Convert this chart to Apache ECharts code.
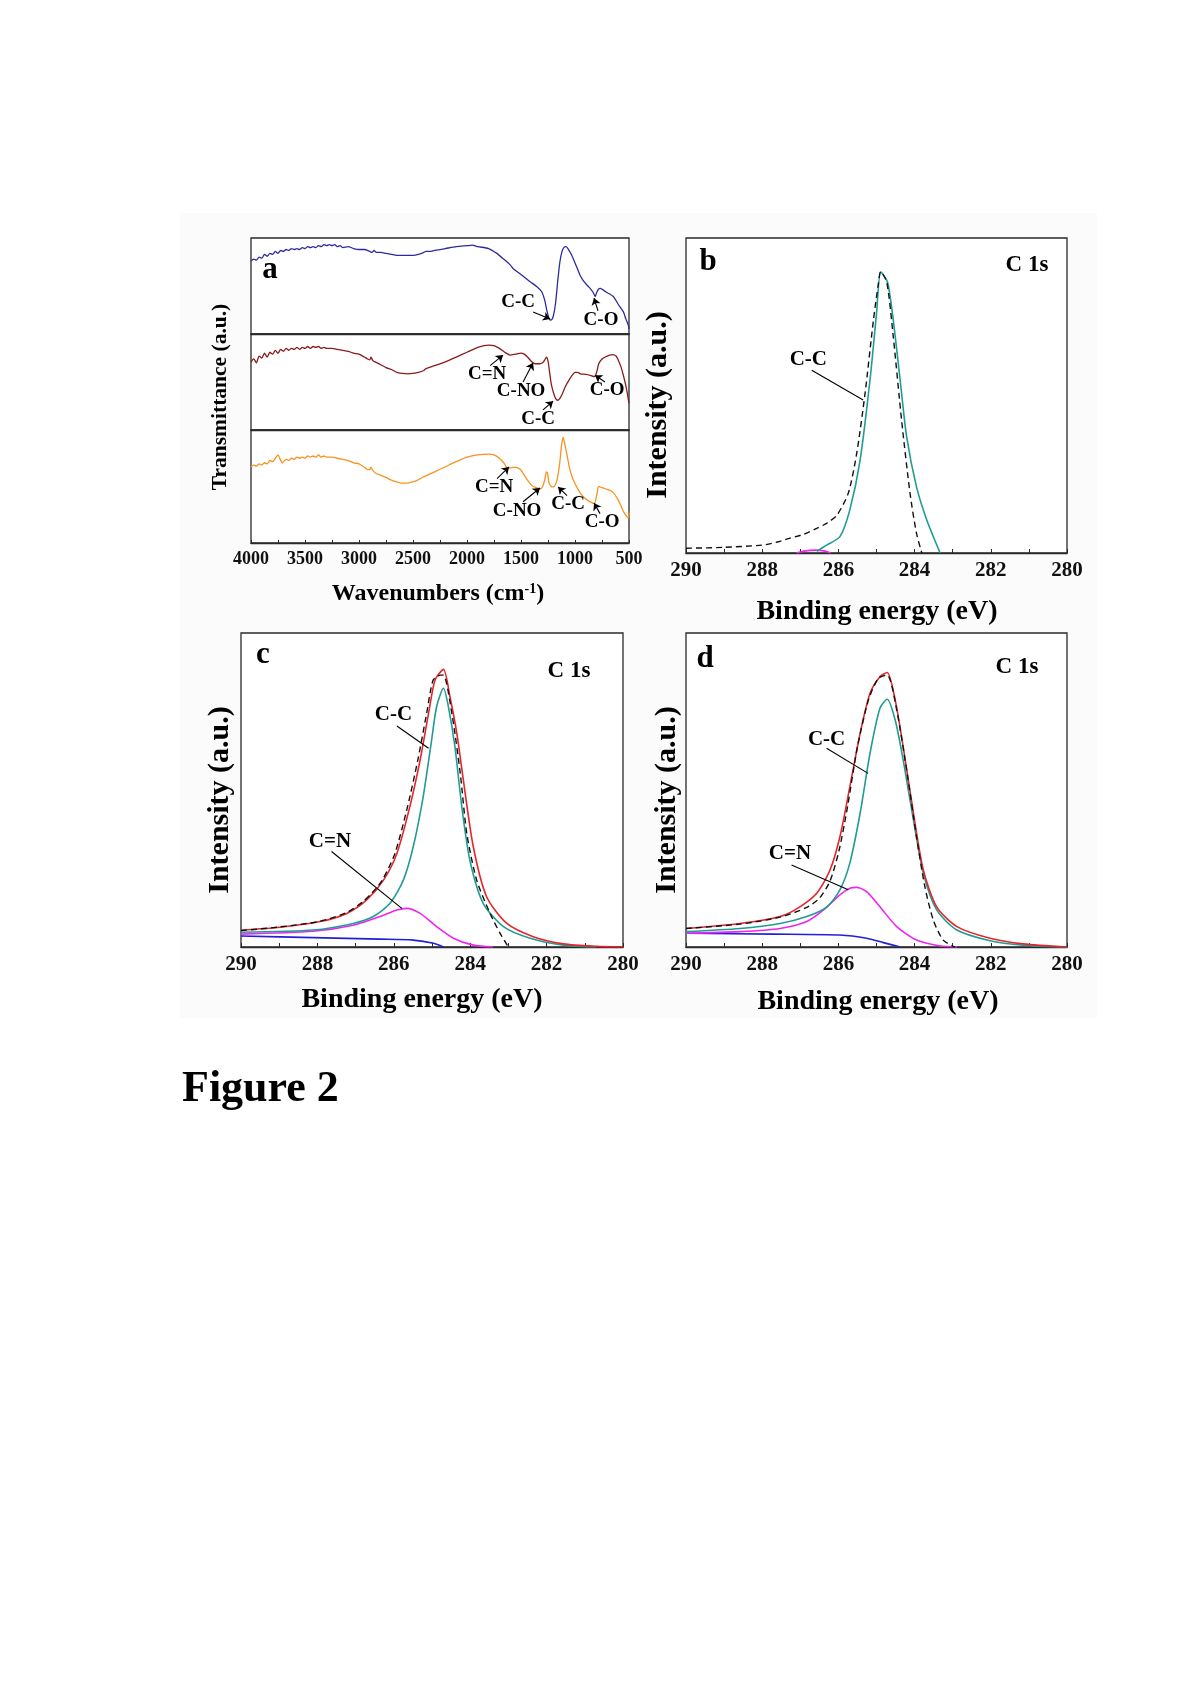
<!DOCTYPE html>
<html><head><meta charset="utf-8">
<script src="https://cdn.jsdelivr.net/npm/echarts@6.0.0/dist/echarts.min.js"></script>
<style>
html,body{margin:0;padding:0;background:#fff}
#bg{position:absolute;left:180px;top:213px;width:917px;height:805px;background:#fbfbfb}
#c{position:absolute;left:0;top:0;width:1200px;height:1697px}
</style>
</head><body><div id="bg"></div><div id="c"></div>
<script>
// ---------- Panel a: FTIR (wavenumber, relative transmittance 0-100 within each strip) ----------
const ftirTicks = [4000, 3500, 3000, 2500, 2000, 1500, 1000, 500];
const ftirBlue = [[4000,76],[3975,78],[3950,77],[3925,80],[3900,79],[3875,83],[3850,81],[3825,84],[3800,83],[3775,86],[3750,84],[3725,87],[3700,86],[3675,88],[3650,87],[3625,89],[3600,88],[3575,89],[3550,88],[3525,90],[3500,89],[3475,91],[3450,90],[3425,91],[3400,90],[3375,92],[3350,91],[3325,93],[3300,92],[3275,93],[3250,92],[3225,93],[3200,91],[3175,92],[3150,90],[3100,91],[3050,89],[3000,88],[2950,88],[2900,86],[2880,85],[2860,87],[2840,85],[2800,85],[2750,84],[2700,83],[2650,82],[2600,82],[2550,82],[2500,82],[2450,83],[2400,85],[2380,86],[2350,86],[2300,87],[2200,89],[2100,91],[2000,92],[1950,92.5],[1900,91],[1800,89],[1724,84],[1650,77],[1600,72],[1571,68],[1500,62],[1416,54.5],[1350,49],[1308,44],[1280,35],[1260,24],[1240,16],[1231,14.6],[1215,15],[1200,19],[1180,32],[1160,55],[1140,75],[1120,86],[1100,90.5],[1083,91],[1060,88],[1030,82],[1000,74],[970,66],[952,61],[920,55],[890,51],[860,47.6],[830,43],[813,39],[800,43],[780,47],[767,47.6],[740,46],[700,43],[645,39],[600,31],[552,23],[530,16],[506,9],[500,5]];
const ftirRed = [[4000,71],[3975,74],[3950,70],[3925,77],[3900,75],[3875,80],[3850,76],[3825,81],[3800,79],[3775,83],[3750,80],[3725,84],[3700,82],[3675,85],[3650,83],[3625,85],[3600,84],[3575,86],[3550,84],[3525,86],[3500,85],[3475,87],[3450,85],[3425,87],[3400,86],[3375,87],[3350,85],[3325,86],[3300,85],[3250,85],[3200,84],[3150,83],[3100,82],[3050,80],[3000,79],[2950,76],[2920,74],[2900,73],[2890,76],[2870,72],[2850,71],[2800,68],[2750,65],[2700,63],[2650,60],[2600,59],[2550,58.5],[2500,59],[2450,60],[2400,62],[2380,64],[2300,67],[2200,71],[2100,76],[2000,81],[1900,86],[1800,88.5],[1750,88],[1700,85],[1650,81],[1600,78],[1550,79],[1500,80],[1470,79],[1440,76],[1400,71],[1370,69],[1330,69],[1300,70],[1280,73],[1265,76],[1250,72],[1235,60],[1220,48],[1200,39],[1180,33],[1160,31],[1140,33],[1120,37],[1090,45],[1050,53],[1020,58],[1000,60],[975,60],[950,58.5],[900,58],[860,57],[820,55.5],[800,60],[780,69],[750,74],[720,76],[680,78],[650,78.5],[620,77],[600,73],[575,66],[550,56],[525,44],[500,28]];
const ftirOrange = [[4000,67.5],[3975,69],[3950,68],[3925,70],[3900,69],[3875,71],[3850,70],[3825,73],[3800,72],[3775,75],[3750,78],[3730,74],[3710,71],[3690,73],[3670,74],[3650,73],[3625,75],[3600,74],[3575,76],[3550,75],[3525,76],[3500,75],[3475,77],[3450,76],[3425,77],[3400,76],[3375,78],[3350,76],[3325,77],[3300,76],[3250,76],[3200,75],[3150,74],[3100,73],[3050,71],[3000,70],[2950,67],[2920,65],[2900,65],[2890,67],[2870,64],[2850,62],[2800,60],[2750,58],[2700,55.6],[2650,54],[2600,53],[2550,53],[2500,54],[2450,56],[2400,58.6],[2300,63],[2200,67.5],[2100,72],[2000,76],[1900,78],[1800,78.7],[1750,78],[1700,75],[1660,71],[1620,66],[1580,67],[1550,67],[1520,66],[1500,64.5],[1450,57],[1400,51],[1360,49],[1320,48],[1300,50],[1280,56],[1265,63],[1255,62],[1240,53],[1220,50],[1200,49.7],[1180,52],[1160,58.6],[1140,72],[1125,86],[1110,93.5],[1095,88],[1070,76],[1050,66],[1025,58],[1000,52.7],[975,48],[950,44],[900,39],[850,36],[820,35],[800,42],[780,50],[750,49],[720,48],[690,47],[650,45],[600,38],[575,33],[550,27.5],[525,24],[505,22],[500,27]];
// annotations: [text, x, y] and arrows [x1, y1, x2, y2] (data units)
const aTopLabels = [['C-C',1527,33],['C-O',759,14.6]];
const aTopArrows = [[1388,23,1231,15.6],[787,24,824,37.5]];
const aMidLabels = [['C=N',1814,58],['C-NO',1499,40.6],['C-C',1342,11.5],['C-O',703,41.7]];
const aMidArrows = [[1786,67,1666,78],[1481,50,1388,70],[1296,21,1203,30],[722,50,815,57]];
const aBotLabels = [['C=N',1749,49.6],['C-NO',1536,28.3],['C-C',1064,34.5],['C-O',749,18.6]];
const aBotArrows = [[1722,57,1611,67.3],[1481,36.5,1324,48.7],[1074,42,1157,49.6],[768,26,824,35.4]];

// ---------- Panel b: XPS C 1s ----------
const xpsTicks = [290, 288, 286, 284, 282, 280];
const bTeal = [[286.57,0.5],[286.31,2.5],[285.96,5.2],[285.7,13.7],[285.43,29.5],[285.17,55],[285.0,76],[284.89,89.3],[284.75,87],[284.69,85],[284.56,74],[284.38,55],[284.21,37],[283.95,21],[283.68,10.5],[283.33,0]];
const bDash = [[290,1.5],[289,1.8],[288,2.5],[287.6,3.5],[287.27,4.7],[286.9,6],[286.57,7.8],[286.3,9.5],[286.04,12],[285.74,19],[285.52,31.6],[285.3,50.7],[285.08,74],[284.95,85.6],[284.89,89.3],[284.73,86],[284.56,68.7],[284.34,42],[284.12,19],[283.95,6.2],[283.81,0]];
const bMagenta = [[287.1,0],[286.9,0.6],[286.6,0.9],[286.35,0.6],[286.2,0]];
const bLabels = [['C-C',286.79,61.3]];
const bLines = [[286.7,58,285.35,48.6]];

// ---------- Panel c ----------
const cRed = [[290,5.4],[288.98,6.3],[287.93,8.1],[287.23,10.7],[286.71,15],[286.27,21.3],[285.92,29.8],[285.58,44.7],[285.31,59.6],[285.09,74.4],[284.92,85],[284.7,88.4],[284.53,79.7],[284.35,68],[284.18,53.2],[283.92,32],[283.57,16],[283.04,7.5],[282.35,3.3],[281.56,1],[280.69,0.2],[280,0]];
const cTeal = [[290,4.7],[288.11,5.4],[287.06,7.5],[286.54,9.7],[286.1,13.9],[285.75,21.3],[285.49,32],[285.23,47.9],[285.01,65.9],[284.88,76.5],[284.7,82.4],[284.57,76.5],[284.4,63.8],[284.22,44.7],[284.01,27.7],[283.66,13.9],[283.13,6.5],[282.43,2.8],[281.56,0.6],[280.7,0]];
const cDash = [[290,5.2],[288.98,6.4],[287.93,8.2],[287.23,11],[286.8,14.5],[286.55,17.5],[286.3,21.3],[285.97,29.8],[285.64,44.7],[285.37,59.6],[285.14,74.4],[284.97,85],[284.78,86.6],[284.7,86.6],[284.48,74.4],[284.26,55.3],[284.09,36.2],[283.83,21.3],[283.48,10.7],[283.22,4.4],[283.0,0]];
const cMagenta = [[290,4.1],[288.11,5],[287.06,6.9],[286.36,9.7],[285.92,11.8],[285.66,12.3],[285.31,10.7],[284.88,6.5],[284.44,2.8],[283.92,0.6],[283.4,0]];
const cBlue = [[290,3.5],[288.11,3],[286.36,2.5],[285.49,2.2],[284.96,1.2],[284.7,0]];
const cLabels = [['C-C',286.01,73.9],['C=N',287.67,33.5]];
const cLines = [[285.92,70.4,285.09,63.3],[287.63,30.4,285.79,12.3]];

// ---------- Panel d ----------
const dRed = [[290,5.9],[288.58,7.5],[287.53,9.7],[287.01,12.8],[286.57,17.1],[286.22,24.5],[285.96,35.1],[285.7,51],[285.43,68],[285.17,80.8],[284.91,86.1],[284.72,87.4],[284.51,78.7],[284.3,63.8],[284.03,42.6],[283.77,24.5],[283.42,12.8],[282.89,6.5],[282.02,2.8],[281.15,1],[280,0]];
const dTeal = [[290,4.9],[288.58,5.9],[287.53,7.5],[286.83,9.7],[286.3,12.8],[285.96,18.2],[285.7,26.7],[285.43,42.6],[285.17,61.7],[284.91,76],[284.72,78.9],[284.51,72.3],[284.3,59.6],[284.03,40.4],[283.77,23.5],[283.42,11.8],[282.89,5.4],[282.02,2],[281.15,0.6],[280,0]];
const dDash = [[290,5.9],[288.58,7.3],[287.53,9.5],[286.83,12.6],[286.5,15.5],[286.22,21],[285.98,30.9],[285.76,44.7],[285.5,63.8],[285.21,78.7],[284.95,85.6],[284.72,86.6],[284.47,75.5],[284.21,56.4],[283.95,35.1],[283.73,19.2],[283.51,8.6],[283.25,2.2],[282.94,0]];
const dMagenta = [[290,4.4],[288.58,4.9],[287.53,5.9],[286.83,8.1],[286.39,11.8],[285.96,16.6],[285.7,18.7],[285.52,19],[285.26,17.6],[284.91,12.8],[284.47,6.5],[283.95,2.2],[283.33,0.3],[282.89,0]];
const dBlue = [[290,4.4],[287.71,4.1],[285.96,3.8],[285.26,2.8],[284.82,1.4],[284.38,0]];
const dLabels = [['C-C',286.31,65.9],['C=N',287.27,29.8]];
const dLines = [[286.31,63.3,285.22,55.3],[287.23,26.1,285.74,18.2]];

// ---------- build ----------
const FONT = "'Liberation Serif','Times New Roman',serif";
const INK = '#111';
const BORDER = '#2a2a2a';

const grids = [
  {left:251, top:238, width:378, height:96},
  {left:251, top:334, width:378, height:96},
  {left:251, top:430, width:378, height:113},
  {left:686, top:238, width:381, height:315},
  {left:241, top:633, width:382, height:314},
  {left:686, top:633, width:381, height:314}
].map(g => Object.assign({show:true, borderColor:BORDER, borderWidth:1.3, backgroundColor:'#fff', containLabel:false}, g));

function ftirX(gi, labels){
  return {gridIndex:gi, type:'value', min:500, max:4000, interval:500, inverse:true,
    axisLine:{show:true, lineStyle:{color:BORDER, width:1.3}},
    axisTick:{show:labels, inside:true, length:3, lineStyle:{color:BORDER}},
    minorTick:{show:labels, splitNumber:2, length:3, lineStyle:{color:BORDER}},
    axisLabel:{show:labels, fontFamily:FONT, fontWeight:'bold', fontSize:18, color:INK, margin:7,
      formatter: v => String(v)},
    splitLine:{show:false}, minorSplitLine:{show:false}};
}
function xpsX(gi){
  return {gridIndex:gi, type:'value', min:280, max:290, interval:2, inverse:true,
    axisLine:{show:true, lineStyle:{color:BORDER, width:1.3}},
    axisTick:{show:true, inside:true, length:4, lineStyle:{color:BORDER}},
    minorTick:{show:true, splitNumber:2, length:4, lineStyle:{color:BORDER}},
    axisLabel:{show:true, fontFamily:FONT, fontWeight:'bold', fontSize:21, color:INK, margin:7,
      formatter: v => String(v)},
    splitLine:{show:false}, minorSplitLine:{show:false}};
}
const xAxes = [ftirX(0,false), ftirX(1,false), ftirX(2,true), xpsX(3), xpsX(4), xpsX(5)];
const yAxes = [0,1,2,3,4,5].map(i => ({gridIndex:i, type:'value', min:0, max:100, show:false}));

function curve(gi, data, color, width, dashed, marks, arrow){
  const s = {type:'line', xAxisIndex:gi, yAxisIndex:gi, data:data, showSymbol:false, symbol:'none',
    smooth:0.25, clip:true, silent:true,
    lineStyle:{color:color, width:width, type: dashed ? [6,4] : 'solid'}, z: dashed ? 3 : 2};
  if (marks){
    s.markLine = {silent:true, animation:false,
      symbol: arrow ? ['none','arrow'] : ['none','none'], symbolSize: arrow ? 7 : 0,
      lineStyle:{color:'#000', width:1.1, type:'solid'}, label:{show:false}, emphasis:{disabled:true},
      data: marks.map(m => [{coord:[m[0],m[1]]},{coord:[m[2],m[3]]}])};
  }
  return s;
}
function labels(gi, list, size){
  return {type:'scatter', xAxisIndex:gi, yAxisIndex:gi, symbolSize:1, silent:true, z:5,
    itemStyle:{color:'transparent', opacity:1},
    data: list.map(l => ({name:l[0], value:[l[1], l[2]]})),
    label:{show:true, position:'inside', formatter:'{b}', fontFamily:FONT, fontWeight:'bold',
      fontSize:size, color:'#000', opacity:1, textBorderWidth:0}};
}

const TEAL = '#1f9c93', RED = '#e3262b', MAG = '#f024f0', BLUE = '#2020d8';
const series = [
  curve(0, ftirBlue, '#2b2b9e', 1.3, false, aTopArrows, true),
  curve(1, ftirRed, '#8a1c1c', 1.3, false, aMidArrows, true),
  curve(2, ftirOrange, '#f7931e', 1.3, false, aBotArrows, true),
  labels(0, aTopLabels, 19), labels(1, aMidLabels, 19), labels(2, aBotLabels, 19),

  curve(3, bMagenta, MAG, 1.6, false),
  curve(3, bTeal, TEAL, 1.6, false, bLines, false),
  curve(3, bDash, '#111', 1.4, true),
  labels(3, bLabels, 21),

  curve(4, cBlue, BLUE, 1.6, false),
  curve(4, cMagenta, MAG, 1.6, false),
  curve(4, cTeal, TEAL, 1.6, false, cLines, false),
  curve(4, cDash, '#111', 1.4, true),
  curve(4, cRed, RED, 1.6, false),
  labels(4, cLabels, 21),

  curve(5, dBlue, BLUE, 1.6, false),
  curve(5, dMagenta, MAG, 1.6, false),
  curve(5, dTeal, TEAL, 1.6, false, dLines, false),
  curve(5, dDash, '#111', 1.4, true),
  curve(5, dRed, RED, 1.6, false),
  labels(5, dLabels, 21)
];

function txt(text, x, y, size, rot, extra){
  const st = {text:text, x:0, y:0, fill:'#000', font:'bold '+size+'px '+FONT, align:'center', verticalAlign:'middle'};
  if (extra) Object.assign(st, extra);
  return {type:'text', x:x, y:y, rotation: rot ? Math.PI/2 : 0, style:st, z:10, silent:true};
}
const graphics = [
  txt('a', 270, 270, 31),
  txt('b', 708, 262, 31),
  txt('c', 263, 655, 31),
  txt('d', 705, 659, 31),
  txt('C 1s', 1027, 265, 23),
  txt('C 1s', 569, 671, 23),
  txt('C 1s', 1017, 667, 23),
  txt('Transmittance (a.u.)', 220, 397, 21.5, true),
  txt('{t|Wavenumbers (cm}{s|-1}{t|)}', 438, 594, 24, false, {rich:{
      t:{fontFamily:FONT, fontWeight:'bold', fontSize:24, fill:'#000'},
      s:{fontFamily:FONT, fontWeight:'bold', fontSize:14, fill:'#000', verticalAlign:'top', padding:[0,0,10,0]}}}),
  txt('Intensity (a.u.)', 658, 405, 30, true),
  txt('Intensity (a.u.)', 220, 800, 30, true),
  txt('Intensity (a.u.)', 667, 800, 30, true),
  txt('Binding energy (eV)', 877, 612, 28),
  txt('Binding energy (eV)', 422, 1000, 28),
  txt('Binding energy (eV)', 878, 1002, 28),
  {type:'text', x:182, y:1090, style:{text:'Figure 2', fill:'#000', font:'bold 44px '+FONT, align:'left', verticalAlign:'middle'}, silent:true}
];

const chart = echarts.init(document.getElementById('c'), null, {renderer:'canvas'});
chart.setOption({
  animation:false,
  backgroundColor:'transparent',
  grid: grids, xAxis: xAxes, yAxis: yAxes, series: series, graphic: graphics
});
</script></body></html>
